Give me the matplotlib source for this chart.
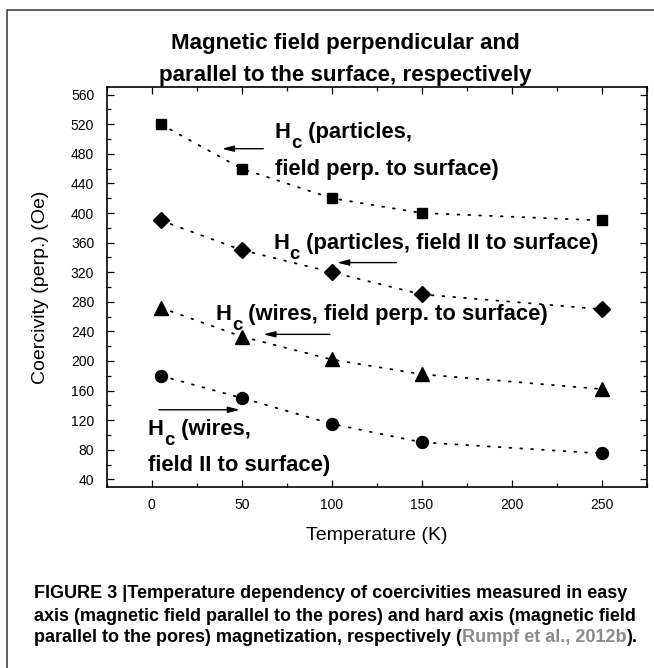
import matplotlib
matplotlib.use('Agg')
import matplotlib.pyplot as plt
from matplotlib.patches import Rectangle
from matplotlib.ticker import MultipleLocator

# Coercivity vs temperature
temps = [5, 50, 100, 150, 250]
hc_particles_perp = [520, 460, 420, 400, 390]
hc_particles_par = [390, 350, 320, 290, 270]
hc_wires_perp = [272, 233, 202, 182, 162]
hc_wires_par = [180, 150, 115, 90, 75]

x_ticks = [0, 50, 100, 150, 200, 250]
y_ticks = list(range(40, 561, 40))

plt.rcParams['font.family'] = ['Liberation Sans', 'DejaVu Sans']

fig = plt.figure(figsize=(6.54, 6.68), dpi=100)
W, H = 654, 668


def fx(px):
    return px / W


def fy(py):
    return 1 - py / H


# outer frame of the figure panel
fig.add_artist(Rectangle((fx(7), -0.05), 2, fy(10) + 0.05, transform=fig.transFigure,
                         fill=False, lw=1.1, ec='#333333', clip_on=False))

ax = fig.add_axes([fx(106.7), fy(486.7), fx(646.7) - fx(106.7), fy(87.3) - fy(486.7)])

dots = (0, (1, 5))
series = [
    (hc_particles_perp, 's', 7.4),
    (hc_particles_par, 'D', 8.0),
    (hc_wires_perp, '^', 9.5),
    (hc_wires_par, 'o', 8.6),
]
for vals, mk, ms in series:
    ax.plot(temps, vals, color='k', lw=1.3, linestyle=dots, dash_capstyle='round')
    ax.plot(temps, vals, mk, color='k', ms=ms, linestyle='none')

ax.set_xlim(-25, 275)
ax.set_ylim(30, 570)
ax.set_xticks(x_ticks)
ax.set_yticks(y_ticks)
ax.xaxis.set_minor_locator(MultipleLocator(25))
ax.yaxis.set_minor_locator(MultipleLocator(20))
ax.tick_params(which='both', direction='in', top=True, right=True, width=0.9)
ax.tick_params(which='major', length=5)
ax.tick_params(which='minor', length=3)
ax.tick_params(axis='y', which='major', pad=9, labelsize=10)
ax.tick_params(axis='x', which='major', pad=8, labelsize=10)
for sp in ax.spines.values():
    sp.set_linewidth(1.2)

ax.set_xlabel('Temperature (K)', fontsize=14, labelpad=11)
ax.set_ylabel('Coercivity (perp.) (Oe)', fontsize=14, labelpad=16)

# annotations: "H" + lowered "c" + rest of the label
FS = 15.8


def hc_label(x, y, rest):
    h = ax.text(x, y, 'H', fontsize=FS, fontweight='bold', va='baseline', ha='left')
    c = ax.annotate('c', xy=(1, 0), xycoords=h, xytext=(0.4, -6.5),
                    textcoords='offset points', fontsize=FS * 0.85, fontweight='bold',
                    va='bottom', ha='left')
    ax.annotate(rest, xy=(1, 0), xycoords=(c, h), fontsize=FS, fontweight='bold',
                va='bottom', ha='left')


def plain_label(x, y, s):
    ax.text(x, y, s, fontsize=FS, fontweight='bold', va='baseline', ha='left')


hc_label(68.5, 501, ' (particles,')
plain_label(68.5, 451, 'field perp. to surface)')
hc_label(67.4, 352, ' (particles, field II to surface)')
hc_label(35.4, 255, ' (wires, field perp. to surface)')
hc_label(-2.2, 100, ' (wires,')
plain_label(-2.2, 51.5, 'field II to surface)')

arrow = dict(arrowstyle='-|>,head_length=0.7,head_width=0.18', color='k', lw=1.0,
             shrinkA=0, shrinkB=0)
ax.annotate('', xy=(39, 487), xytext=(62, 487), arrowprops=arrow)
ax.annotate('', xy=(103, 333), xytext=(136, 333), arrowprops=arrow)
ax.annotate('', xy=(62, 236), xytext=(99, 236), arrowprops=arrow)
ax.annotate('', xy=(49, 134), xytext=(4, 134), arrowprops=arrow)

# title
ttl = dict(fontsize=16.1, fontweight='bold', ha='center', va='baseline')
fig.text(fx(345), fy(48.5), 'Magnetic field perpendicular and', **ttl)
fig.text(fx(345), fy(81.5), 'parallel to the surface, respectively', **ttl)

# caption
CFS = 13.0
cap = dict(fontsize=CFS, fontweight='bold', ha='left', va='baseline')
fig.text(fx(34), fy(598.5), 'FIGURE 3 |Temperature dependency of coercivities measured in easy', **cap)
fig.text(fx(34), fy(621),
         'axis (magnetic field parallel to the pores) and hard axis (magnetic field', **cap)
c1 = fig.text(fx(34), fy(642.5),
              'parallel to the pores) magnetization, respectively (', **cap)
cap2 = dict(fontsize=CFS, fontweight='bold', ha='left', va='bottom', annotation_clip=False)
c2 = fig.add_artist(plt.Annotation('Rumpf et al., 2012b', xy=(1, 0), xycoords=c1,
                                   color='#8a8a8a', **cap2))
fig.add_artist(plt.Annotation(').', xy=(1, 0), xycoords=c2, color='k', **cap2))

fig.savefig('out.png', dpi=100)
